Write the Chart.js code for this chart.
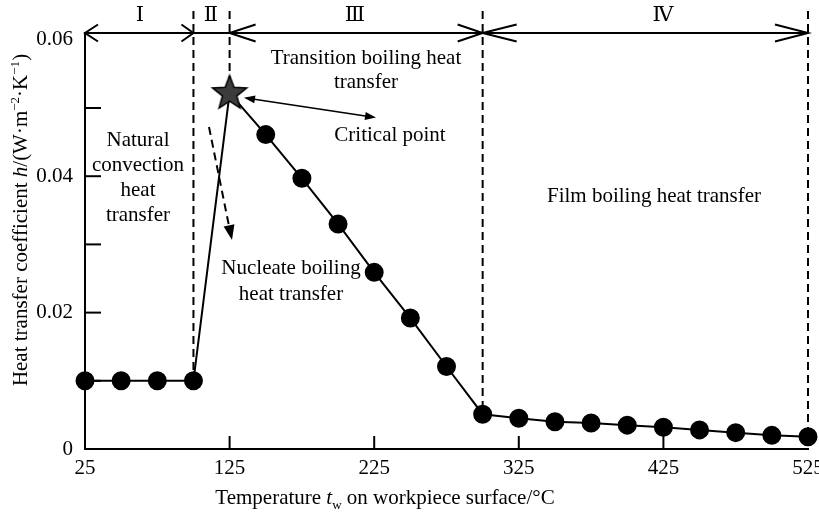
<!DOCTYPE html>
<html>
<head>
<meta charset="utf-8">
<script src="https://cdn.jsdelivr.net/npm/chart.js@4.4.0/dist/chart.umd.min.js"></script>
<style>
  html, body { margin: 0; padding: 0; background: #fff; }
  #wrap { width: 819px; height: 515px; }
</style>
</head>
<body>
<div id="wrap"><canvas id="chart" width="819" height="515"></canvas></div>
<script>
// --- Datos ---
const temps = [25, 50, 75, 100, 125, 150, 175, 200, 225, 250, 275, 300, 325, 350, 375, 400, 425, 450, 475, 500, 525];
const hValues = [0.0100, 0.0100, 0.0100, 0.0100, 0.0522, 0.0461, 0.0397, 0.0330, 0.0259, 0.0192, 0.0121, 0.0051,
                 0.0045, 0.0040, 0.0038, 0.0035, 0.0032, 0.0028, 0.0024, 0.0020, 0.0018];
const criticalIndex = 4;            // punto crítico (estrella)
const xTicks = [25, 125, 225, 325, 425, 525];
const yTicks = [0, 0.01, 0.02, 0.03, 0.04, 0.05, 0.06];
const regionBounds = [25, 100, 125, 300, 525];   // límites de las zonas I-IV
const regionNames = ['Ⅰ', 'Ⅱ', 'Ⅲ', 'Ⅳ'];

const SERIF = '"Liberation Serif", "Times New Roman", serif';
const el = (id) => document.getElementById(id);

// --- Estrella para el punto crítico ---
const makeStar = () => {
    const cv = document.createElement('canvas');
    cv.width = cv.height = 40;
    const c = cv.getContext('2d');
    c.beginPath();
    for (let i = 0; i < 10; i++) {
        const r = i % 2 ? 7.6 : 18;
        const a = -Math.PI / 2 + i * Math.PI / 5;
        c.lineTo(20 + r * Math.cos(a), 20.5 + r * Math.sin(a));
    }
    c.closePath();
    c.fillStyle = '#3c3c3c';
    c.fill();
    c.lineWidth = 1.5;
    c.strokeStyle = '#000';
    c.stroke();
    return cv;
};
const starImg = makeStar();

// --- Texto con subíndices / superíndices ---
function richText(ctx, parts, x, y, size) {
    const fontOf = (p) => {
        const s = p[1] === 'sub' || p[1] === 'sup' ? size * 0.62 : size;
        return (p[1] === 'i' ? 'italic ' : '') + s + 'px ' + SERIF;
    };
    let total = 0;
    parts.forEach(p => { ctx.font = fontOf(p); total += ctx.measureText(p[0]).width; });
    let cx = x - total / 2;
    ctx.textAlign = 'left';
    ctx.textBaseline = 'alphabetic';
    parts.forEach(p => {
        ctx.font = fontOf(p);
        let dy = 0;
        if (p[1] === 'sub') dy = size * 0.22;
        if (p[1] === 'sup') dy = -size * 0.38;
        ctx.fillText(p[0], cx, y + dy);
        cx += ctx.measureText(p[0]).width;
    });
}

function line(ctx, x1, y1, x2, y2) {
    ctx.beginPath(); ctx.moveTo(x1, y1); ctx.lineTo(x2, y2); ctx.stroke();
}

// punta abierta tipo "V" (dir = -1 izquierda, 1 derecha)
function openHead(ctx, x, y, dir, len) {
    ctx.beginPath();
    ctx.moveTo(x - dir * len, y - 8.5);
    ctx.lineTo(x, y);
    ctx.lineTo(x - dir * len, y + 8.5);
    ctx.stroke();
}

function filledHead(ctx, x1, y1, x2, y2, len, half) {
    const a = Math.atan2(y2 - y1, x2 - x1);
    ctx.beginPath();
    ctx.moveTo(x2, y2);
    ctx.lineTo(x2 - len * Math.cos(a) + half * Math.sin(a), y2 - len * Math.sin(a) - half * Math.cos(a));
    ctx.lineTo(x2 - len * Math.cos(a) - half * Math.sin(a), y2 - len * Math.sin(a) + half * Math.cos(a));
    ctx.closePath();
    ctx.fill();
}

const valueAt = (t) => hValues[temps.indexOf(t)];

// --- Plugin: líneas discontinuas, flechas, textos ---
const decor = {
    id: 'decor',
    beforeDatasetsDraw(chart) {
        const { ctx, scales: { x, y } } = chart;
        ctx.save();
        ctx.strokeStyle = '#000';
        ctx.lineWidth = 2;
        ctx.setLineDash([8, 5]);
        regionBounds.slice(1).forEach(t => {
            const px = x.getPixelForValue(t);
            line(ctx, px, 11, px, y.getPixelForValue(valueAt(t)));
        });
        ctx.restore();
    },
    afterDraw(chart) {
        const { ctx, chartArea: a, scales: { x, y } } = chart;
        ctx.save();
        ctx.strokeStyle = '#000';
        ctx.fillStyle = '#000';
        ctx.lineWidth = 2;
        ctx.setLineDash([]);

        // marcas hacia dentro
        yTicks.filter(v => v > 0 && v < 0.06).forEach(v => {
            const py = y.getPixelForValue(v);
            line(ctx, a.left, py, a.left + 16, py);
        });
        xTicks.slice(1, -1).forEach(v => {
            const px = x.getPixelForValue(v);
            line(ctx, px, a.bottom, px, a.bottom - 13);
        });

        // flecha superior con zonas
        const top = a.top;
        line(ctx, a.left, top, a.right, top);
        const b = regionBounds.map(t => x.getPixelForValue(t));
        openHead(ctx, b[0], top, -1, 13);
        openHead(ctx, b[1], top, 1, 12);
        openHead(ctx, b[2], top, -1, 26);
        openHead(ctx, b[3], top, 1, 25);
        openHead(ctx, b[3], top, -1, 34);
        openHead(ctx, b[4], top, 1, 33);

        ctx.font = '21px ' + SERIF + ', "DejaVu Serif", "Noto Sans CJK SC"';
        ctx.textAlign = 'center';
        ctx.textBaseline = 'middle';
        const regionX = [140, 211, 355, 663];
        regionNames.forEach((n, i) => ctx.fillText(n, regionX[i], 15));

        // textos de anotación
        ctx.font = '21px ' + SERIF;
        const lines = [
            ['Transition boiling heat', 366, 58], ['transfer', 366, 82],
            ['Critical point', 390, 135],
            ['Natural', 138, 140], ['convection', 138, 165], ['heat', 138, 190], ['transfer', 138, 215],
            ['Nucleate boiling', 291, 268], ['heat transfer', 291, 294],
            ['Film boiling heat transfer', 654, 196],
        ];
        lines.forEach(([t, tx, ty]) => ctx.fillText(t, tx, ty));

        // flecha doble del punto crítico
        ctx.lineWidth = 1.6;
        line(ctx, 246, 98, 372, 117);
        filledHead(ctx, 372, 117, 244, 97.7, 11, 4);
        filledHead(ctx, 246, 98, 376, 117.6, 11, 4);

        // flecha discontinua (nucleate boiling)
        ctx.lineWidth = 2;
        ctx.setLineDash([8, 5]);
        line(ctx, 209, 127, 229, 226);
        ctx.setLineDash([]);
        filledHead(ctx, 209, 127, 232, 240, 15, 5.5);

        // títulos de los ejes
        richText(ctx, [['Temperature ', ''], ['t', 'i'], ['w', 'sub'], [' on workpiece surface/°C', '']],
            385, 504, 21);
        ctx.save();
        ctx.translate(20, 220);
        ctx.rotate(-Math.PI / 2);
        richText(ctx, [['Heat transfer coefficient ', ''], ['h', 'i'], ['/(W·m', ''], ['−2', 'sup'],
            ['·K', ''], ['−1', 'sup'], [')', '']], 0, 7, 21);
        ctx.restore();
        ctx.restore();
    }
};

const fmtY = (v) => {
    const k = Math.round(v * 100);
    if (k % 2 !== 0) return '';
    return k === 0 ? '0' : v.toFixed(2);
};

new Chart(el('chart').getContext('2d'), {
    type: 'line',
    data: {
        datasets: [{
            data: temps.map((t, i) => ({ x: t, y: hValues[i] })),
            borderColor: '#000',
            borderWidth: 2,
            backgroundColor: '#000',
            pointBackgroundColor: '#000',
            pointBorderColor: '#000',
            pointRadius: 8.5,
            pointStyle: temps.map((t, i) => i === criticalIndex ? starImg : 'circle'),
            tension: 0,
            clip: false,
        }],
    },
    options: {
        responsive: false,
        animation: false,
        devicePixelRatio: 1,
        layout: { padding: { top: 33, right: 11, left: 0, bottom: 0 } },
        plugins: { legend: { display: false }, tooltip: { enabled: false } },
        scales: {
            x: {
                type: 'linear',
                min: 25,
                max: 525,
                afterBuildTicks: (s) => { s.ticks = xTicks.map(v => ({ value: v })); },
                afterFit: (s) => { s.height = 66; s.paddingLeft = 0; s.paddingRight = 0; },
                ticks: { color: '#000', padding: 7, font: { family: SERIF, size: 21 }, maxRotation: 0,
                         autoSkip: false, callback: (v) => String(v) },
                grid: { drawOnChartArea: false, drawTicks: false },
                border: { color: '#000', width: 2 },
            },
            y: {
                min: 0,
                max: 0.061,
                afterBuildTicks: (s) => { s.ticks = yTicks.map(v => ({ value: v })); },
                afterFit: (s) => { s.width = 85; s.paddingTop = 0; s.paddingBottom = 0; },
                ticks: { color: '#000', padding: 12, font: { family: SERIF, size: 21 },
                         autoSkip: false, callback: fmtY },
                grid: { drawOnChartArea: false, drawTicks: false },
                border: { color: '#000', width: 2 },
            },
        },
    },
    plugins: [decor],
});
</script>
</body>
</html>
